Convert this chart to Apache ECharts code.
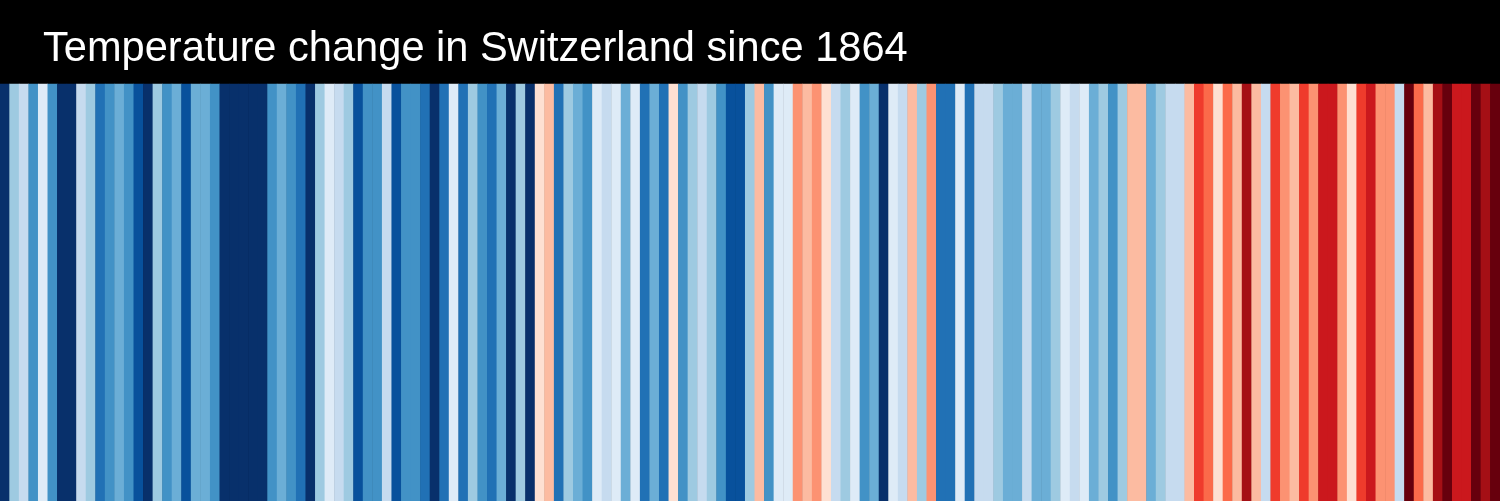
<!DOCTYPE html>
<html>
<head>
<meta charset="utf-8">
<script src="https://cdn.jsdelivr.net/npm/echarts@6/dist/echarts.min.js"></script>
<style>
  html, body { margin: 0; padding: 0; background: #000; }
  #chart { width: 1500px; height: 501px; }
</style>
</head>
<body>
<div id="chart"></div>
<script>
// yearly temperature anomaly, Switzerland (°C), 1864 .. 2020
const firstYear = 1864
const anomalies = [
  -2.2, -0.7, -0.4, -1.3, -0.1, -1.3, -2.2, -2.2, -0.4, -0.7,
  -1.6, -1.3, -1.0, -1.3, -1.9, -2.2, -0.7, -1.3, -1.0, -1.9,
  -1.0, -1.0, -1.3, -2.2, -2.2, -2.2, -2.2, -2.2, -1.3, -1.0,
  -1.3, -1.6, -2.2, -0.7, -0.1, -0.4, -0.7, -1.9, -1.3, -1.3,
  -0.4, -1.9, -1.3, -1.3, -1.6, -2.2, -1.6, -0.1, -1.6, -0.7,
  -1.3, -1.6, -1.0, -2.2, -0.7, -2.2, 0.1, 0.4, -1.6, -0.7,
  -1.0, -1.3, -0.1, -0.4, -0.1, -1.0, -0.1, -1.6, -1.0, -1.6,
  0.1, -1.3, -0.7, -0.4, -0.7, -1.3, -1.9, -1.9, -0.7, 0.4,
  -1.3, -0.1, -0.1, 0.7, 0.4, 0.7, 0.1, -0.4, -0.7, -0.1,
  -1.3, -1.0, -2.2, -0.1, -0.4, 0.4, -0.7, 0.7, -1.6, -1.6,
  -0.1, -1.6, -0.4, -0.4, -0.7, -1.0, -1.0, -0.4, -1.0, -1.0,
  -0.7, -0.1, -0.4, -0.1, -1.0, -0.7, -1.3, -0.7, 0.4, 0.4,
  -1.0, -0.7, -0.4, -0.4, 0.4, 1.3, 1.0, 0.1, 1.0, 0.4,
  1.9, 0.4, -0.4, 1.3, 0.7, 0.4, 1.3, 0.7, 1.6, 1.6,
  0.7, 0.1, 1.3, 1.6, 0.7, 0.7, -0.4, 2.2, 1.0, 0.4,
  1.9, 2.2, 1.6, 1.6, 2.2, 1.9, 2.2
]
const years = anomalies.map((_, i) => String(firstYear + i))

// stripe palette, coldest -> warmest
const blues = ['#08306b', '#08519c', '#2171b5', '#4292c6', '#6baed6', '#9ecae1', '#c6dbef', '#deebf7']
const reds = ['#fee0d2', '#fcbba1', '#fc9272', '#fb6a4a', '#ef3b2c', '#cb181d', '#a50f15', '#67000d']
const step = 0.3

const pieces = []
blues.forEach((c, i) => {
  const lo = -(8 - i) * step, hi = -(7 - i) * step
  pieces.push(i === 0 ? { lt: hi, color: c } : { gte: lo, lt: hi, color: c })
})
reds.forEach((c, i) => {
  const lo = i * step, hi = (i + 1) * step
  pieces.push(i === 7 ? { gte: lo, color: c } : { gte: lo, lt: hi, color: c })
})

const chart = echarts.init(document.getElementById('chart'))
chart.setOption({
  backgroundColor: '#000',
  animation: false,
  title: {
    text: 'Temperature change in Switzerland since 1864',
    left: 38, top: 24,
    textStyle: { color: '#fff', fontSize: 41.6, fontWeight: 'normal', fontFamily: 'Liberation Sans, Arial, sans-serif' }
  },
  grid: { left: 0, right: 0, top: 84, bottom: 0 },
  xAxis: { type: 'category', data: years, show: false },
  yAxis: { type: 'category', data: [''], show: false },
  visualMap: { type: 'piecewise', show: false, dimension: 2, pieces: pieces },
  series: [{
    type: 'heatmap',
    data: anomalies.map((v, i) => [i, 0, v]),
    itemStyle: { borderWidth: 0 },
    emphasis: { disabled: true }
  }]
})
</script>
</body>
</html>
